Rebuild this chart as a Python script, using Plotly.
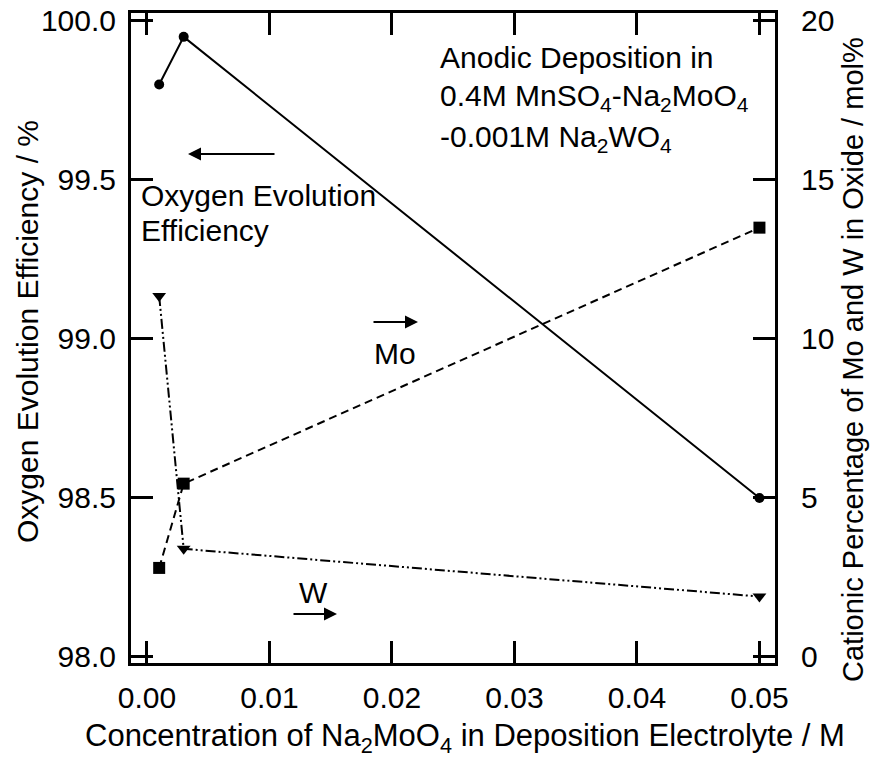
import plotly.graph_objects as go

# ---- data ----
conc = [0.001, 0.003, 0.05]
efficiency = [99.80, 99.95, 98.50]          # left axis, %
mo_pct = [2.8, 5.45, 13.5]                   # right axis, mol%
w_pct = [11.35, 3.4, 1.9]                    # right axis, mol%

x_ticks = [0, 0.01, 0.02, 0.03, 0.04, 0.05]
x_ticklabels = ["0.00", "0.01", "0.02", "0.03", "0.04", "0.05"]
y_ticks = [98.0, 98.5, 99.0, 99.5, 100.0]
y_ticklabels = ["98.0", "98.5", "99.0", "99.5", "100.0"]
y2_ticks = [0, 5, 10, 15, 20]

FONT = "Liberation Sans, Arial, Helvetica, sans-serif"
FS = 30
W, H = 875, 759
L, R, T, B = 131, 775, 13, 663  # plot area in pixels

def px(xp):
    return (xp - L) / (R - L)

def py(yp):
    return 1 - (yp - T) / (B - T)

fig = go.Figure()

fig.add_trace(go.Scatter(
    x=conc, y=efficiency, mode="lines+markers",
    line=dict(color="black", width=2),
    marker=dict(symbol="circle", size=10, color="black"),
    yaxis="y", showlegend=False))

fig.add_trace(go.Scatter(
    x=conc, y=mo_pct, mode="lines+markers",
    line=dict(color="black", width=2, dash="8px,5px"),
    marker=dict(symbol="square", size=12, color="black"),
    yaxis="y2", showlegend=False))

fig.add_trace(go.Scatter(
    x=conc, y=w_pct, mode="lines+markers",
    line=dict(color="black", width=2, dash="10px,3px,2px,3px,2px,3px"),
    marker=dict(symbol="triangle-down", size=12, color="black"),
    yaxis="y2", showlegend=False))

tickfont = dict(family=FONT, size=FS, color="black")

fig.update_layout(
    width=W, height=H,
    margin=dict(l=L, r=W - R, t=T, b=H - B),
    paper_bgcolor="white", plot_bgcolor="white",
    font=dict(family=FONT, size=FS, color="black"),
    xaxis=dict(
        range=[-0.0013, 0.05127], tickvals=x_ticks, ticktext=x_ticklabels,
        ticks="inside", ticklen=22, tickwidth=2.5, tickcolor="black",
        showline=True, linewidth=3, linecolor="black", mirror="ticks",
        showgrid=False, zeroline=False, tickfont=tickfont,
        ticklabelstandoff=6, automargin=False,
    ),
    yaxis=dict(
        range=[97.981, 100.025], tickvals=y_ticks, ticktext=y_ticklabels,
        ticks="inside", ticklen=22, tickwidth=2.5, tickcolor="black",
        showline=True, linewidth=3, linecolor="black",
        showgrid=False, zeroline=False, tickfont=tickfont,
        ticklabelstandoff=6, automargin=False,
    ),
    yaxis2=dict(
        range=[-0.19, 20.25], tickvals=y2_ticks,
        overlaying="y", side="right",
        ticks="inside", ticklen=22, tickwidth=2.5, tickcolor="black",
        showline=True, linewidth=3, linecolor="black",
        showgrid=False, zeroline=False, tickfont=tickfont,
        ticklabelstandoff=17, automargin=False,
    ),
)

def txt(xp, yp, s, xanchor="left", size=FS, angle=0):
    return dict(x=px(xp), y=py(yp), xref="paper", yref="paper", xanchor=xanchor,
                yanchor="middle", align="left", showarrow=False, text=s,
                textangle=angle, font=dict(family=FONT, size=size, color="black"))

def arrow(x_head, x_tail, yp):
    return dict(x=px(x_head), y=py(yp), ax=x_tail - x_head, ay=0,
                xref="paper", yref="paper", showarrow=True, arrowhead=2,
                arrowsize=1.3, arrowwidth=2, arrowcolor="black", text="")

annotations = [
    # axis titles
    txt(465, 738, "Concentration of Na<sub>2</sub>MoO<sub>4</sub> in Deposition Electrolyte / M",
        xanchor="center", size=31),
    txt(27, 332, "Oxygen Evolution Efficiency / %", xanchor="center", angle=-90),
    txt(853, 360, "Cationic Percentage of Mo and W in Oxide / mol%", xanchor="center",
        size=29, angle=-90),
    # in-plot labels
    txt(438, 57, "Anodic Deposition in"),
    txt(438, 98, "0.4M MnSO<sub>4</sub>-Na<sub>2</sub>MoO<sub>4</sub>"),
    txt(438, 138, "-0.001M Na<sub>2</sub>WO<sub>4</sub>"),
    txt(139, 196, "Oxygen Evolution"),
    txt(139, 230, "Efficiency"),
    txt(395, 353, "Mo", xanchor="center"),
    txt(313, 592, "W", xanchor="center"),
    arrow(188, 276, 154),
    arrow(418, 372, 322),
    arrow(337, 292, 614),
]
fig.update_layout(annotations=annotations)

fig.write_html("out.html")
